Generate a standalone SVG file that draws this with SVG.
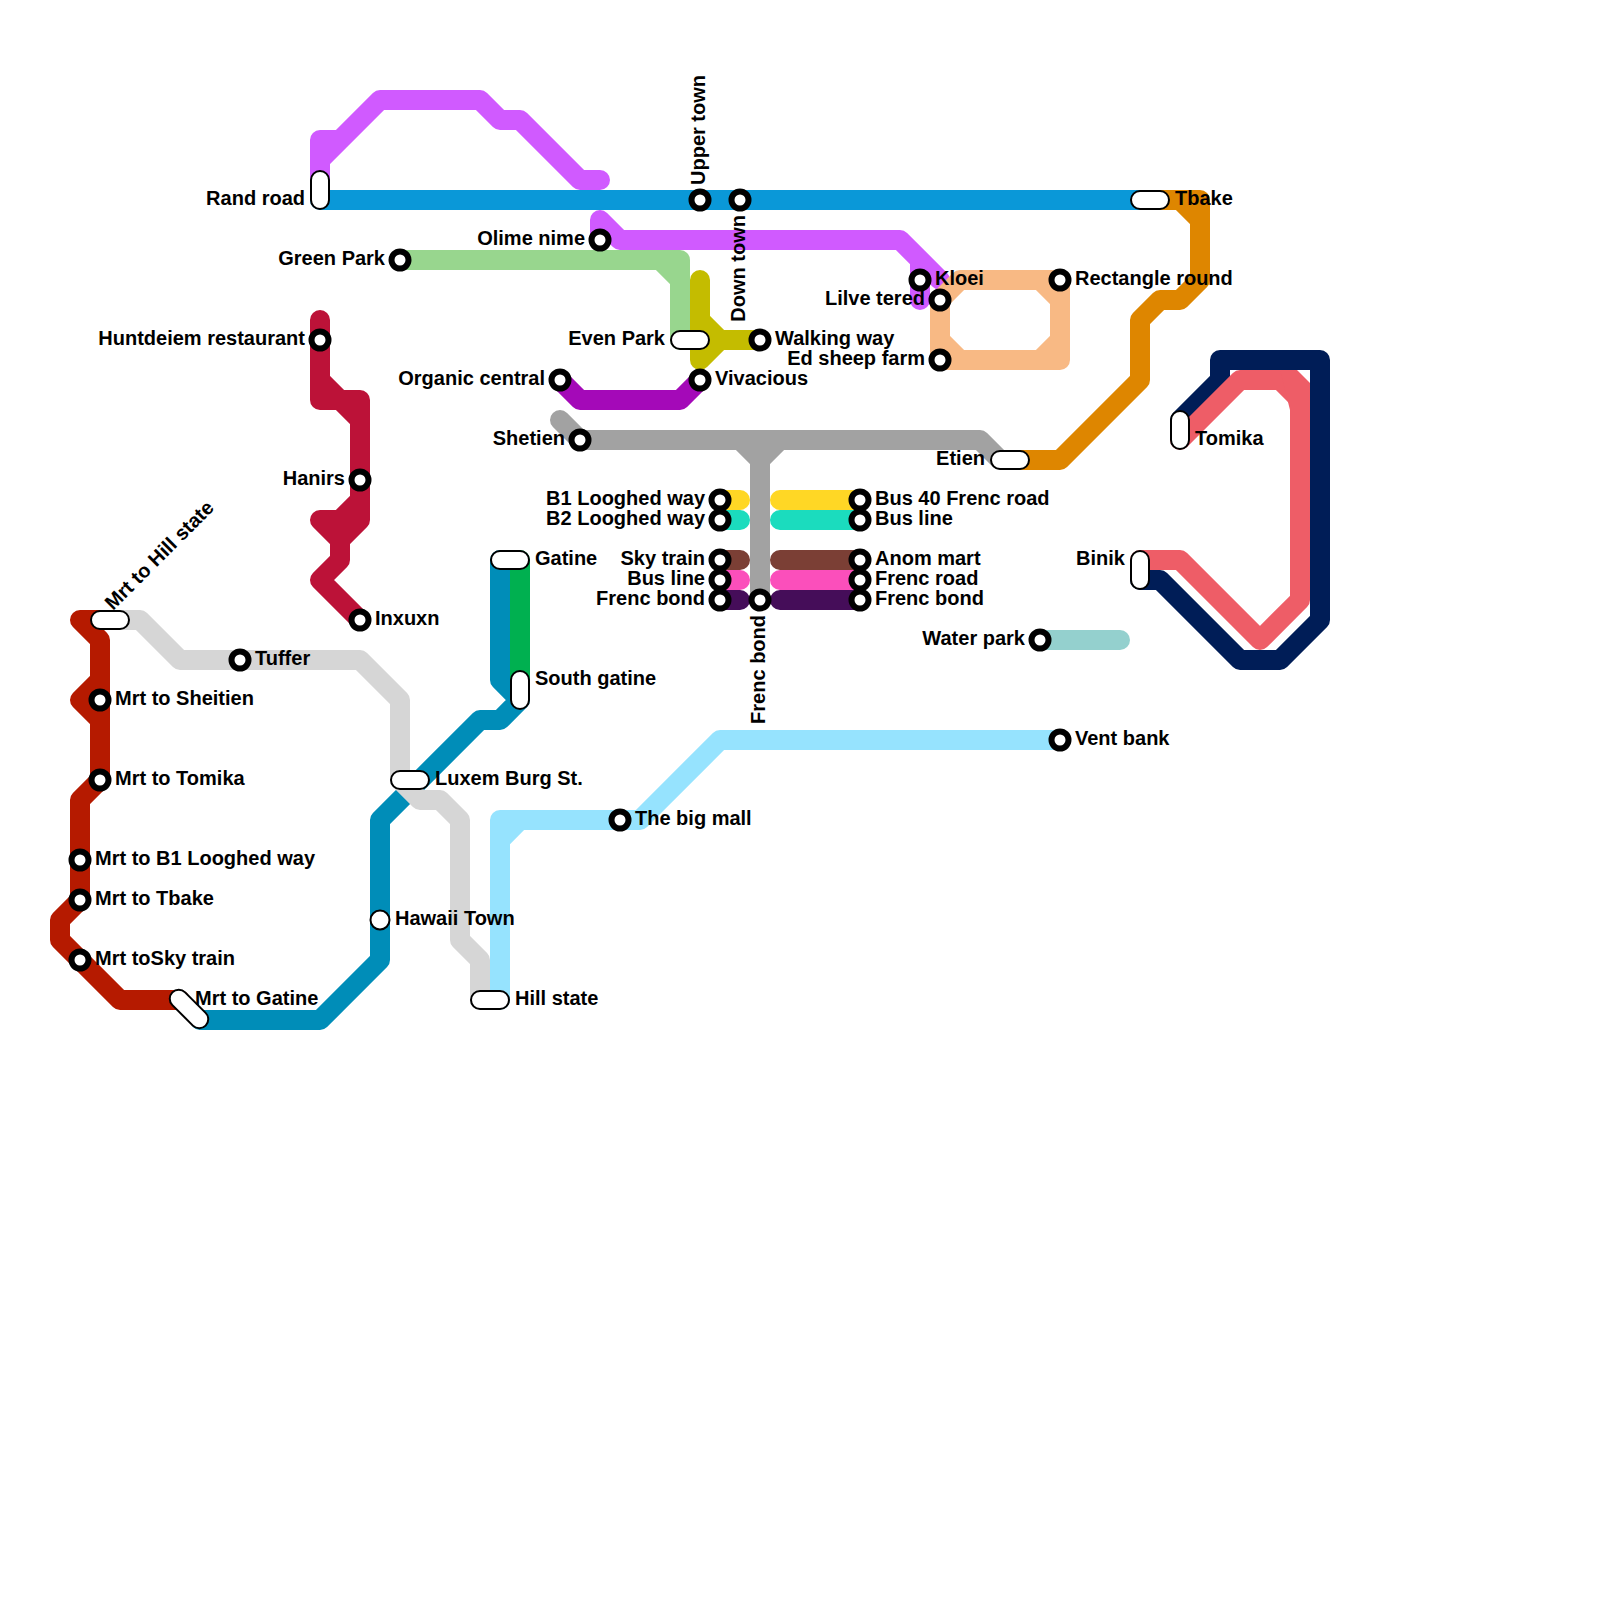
<svg xmlns="http://www.w3.org/2000/svg" width="1600" height="1600" viewBox="0 0 1600 1600">
<style>
.l{fill:none;stroke-width:20;stroke-linecap:round;stroke-linejoin:round}
.s{fill:#fff;stroke:#000;stroke-width:6}
.p{fill:#fff;stroke:#000;stroke-width:2}
text{font-family:"Liberation Sans",Arial,sans-serif;font-weight:700;font-size:20px;fill:#000}
.e{text-anchor:end}
</style>
<rect width="1600" height="1600" fill="#fff"/>
<g id="connectors">
<path class="l" stroke="#b51a00" d="M180 1000H120L60 940V920L80 900V800L100 780V640L80 620H110M100 680L80 700L100 720"/>
<path class="l" stroke="#008db8" d="M200 1020H320L380 960V820L480 720H500L520 700L500 680V560"/>
<path class="l" stroke="#00b050" d="M520 560V690"/>
<path class="l" stroke="#d6d6d6" d="M110 620H140L180 660H360L400 700V780L420 800H440L460 820V940L480 960V1000"/>
<path class="l" stroke="#96e3fe" d="M500 1000V820H640L720 740H1060M500 840L520 820"/>
<path class="l" stroke="#0a98d8" d="M320 200H1150"/>
<path class="l" stroke="#d05aff" d="M320 190V140H340M320 160L380 100H480L500 120H520L580 180H600"/>
<path class="l" stroke="#d05aff" d="M600 240V220L620 240H900L940 280M920 260V300"/>
<path class="l" stroke="#98d68e" d="M400 260H680V340M660 260L680 280"/>
<path class="l" stroke="#c4bc00" d="M700 280V360L720 340H760M700 320L720 340"/>
<path class="l" stroke="#a409b8" d="M560 380L580 400H680L700 380"/>
<path class="l" stroke="#a2a2a2" d="M560 420L580 440H980L1000 460M740 440L760 460V600M780 440L760 460"/>
<path class="l" stroke="#bc1238" d="M320 320V400H340M320 380L340 400H360V520L340 540V560L320 580L360 620M340 400L360 420M320 520H340L360 500M320 520L340 540"/>
<path class="l" stroke="#f8b984" d="M940 300L960 280H1060V360H940ZM1040 280L1060 300M1060 340L1040 360M960 360L940 340"/>
<path class="l" stroke="#de8600" d="M1150 200H1200V280L1180 300H1160L1140 320V380L1060 460H1010M1180 200L1200 220"/>
<path class="l" stroke="#001d57" d="M1180 420L1220 380V360H1320V620L1280 660H1240L1160 580H1140"/>
<path class="l" stroke="#ee5d67" d="M1180 440L1240 380H1280L1300 400V600L1260 640L1180 560H1140"/>
<polygon fill="#ee5d67" points="1280,370 1297,370 1310,383 1310,410 1290,410"/>
<path class="l" stroke="#94d0ce" d="M1040 640H1120"/>
<path class="l" stroke="#ffd725" d="M720 500H740M780 500H860"/>
<path class="l" stroke="#1bdcbe" d="M720 520H740M780 520H860"/>
<path class="l" stroke="#7b3f35" d="M720 560H740M780 560H860"/>
<path class="l" stroke="#fb4fbb" d="M720 580H740M780 580H860"/>
<path class="l" stroke="#450d59" d="M720 600H740M780 600H860"/>
</g>
<g id="n-rand-road"><rect class="p" x="311" y="171" width="18" height="38" rx="9"/><text class="e" x="305" y="205">Rand road</text></g>
<g id="n-upper-town"><circle class="s" cx="700" cy="200" r="8.5"/><text transform="translate(705 185) rotate(-90)">Upper town</text></g>
<g id="n-down-town"><circle class="s" cx="740" cy="200" r="8.5"/><text class="e" transform="translate(745 215) rotate(-90)">Down town</text></g>
<g id="n-olime-nime"><circle class="s" cx="600" cy="240" r="8.5"/><text class="e" x="585" y="245">Olime nime</text></g>
<g id="n-green-park"><circle class="s" cx="400" cy="260" r="8.5"/><text class="e" x="385" y="265">Green Park</text></g>
<g id="n-huntdeiem"><circle class="s" cx="320" cy="340" r="8.5"/><text class="e" x="305" y="345">Huntdeiem restaurant</text></g>
<g id="n-hanirs"><circle class="s" cx="360" cy="480" r="8.5"/><text class="e" x="345" y="485">Hanirs</text></g>
<g id="n-inxuxn"><circle class="s" cx="360" cy="620" r="8.5"/><text x="375" y="625">Inxuxn</text></g>
<g id="n-organic"><circle class="s" cx="560" cy="380" r="8.5"/><text class="e" x="545" y="385">Organic central</text></g>
<g id="n-vivacious"><circle class="s" cx="700" cy="380" r="8.5"/><text x="715" y="385">Vivacious</text></g>
<g id="n-walking"><circle class="s" cx="760" cy="340" r="8.5"/><text x="775" y="345">Walking way</text></g>
<g id="n-even-park"><rect class="p" x="671" y="331" width="38" height="18" rx="9"/><text class="e" x="665" y="345">Even Park</text></g>
<g id="n-shetien"><circle class="s" cx="580" cy="440" r="8.5"/><text class="e" x="565" y="445">Shetien</text></g>
<g id="n-kloei"><circle class="s" cx="920" cy="280" r="8.5"/><text x="935" y="285">Kloei</text></g>
<g id="n-lilve"><circle class="s" cx="940" cy="300" r="8.5"/><text class="e" x="925" y="305">Lilve tered</text></g>
<g id="n-ed-sheep"><circle class="s" cx="940" cy="360" r="8.5"/><text class="e" x="925" y="365">Ed sheep farm</text></g>
<g id="n-rectangle"><circle class="s" cx="1060" cy="280" r="8.5"/><text x="1075" y="285">Rectangle round</text></g>
<g id="n-tbake"><rect class="p" x="1131" y="191" width="38" height="18" rx="9"/><text x="1175" y="205">Tbake</text></g>
<g id="n-etien"><rect class="p" x="991" y="451" width="38" height="18" rx="9"/><text class="e" x="985" y="465">Etien</text></g>
<g id="n-tomika"><rect class="p" x="1171" y="411" width="18" height="38" rx="9"/><text x="1195" y="445">Tomika</text></g>
<g id="n-binik"><rect class="p" x="1131" y="551" width="18" height="38" rx="9"/><text class="e" x="1125" y="565">Binik</text></g>
<g id="n-water-park"><circle class="s" cx="1040" cy="640" r="8.5"/><text class="e" x="1025" y="645">Water park</text></g>
<g id="n-vent-bank"><circle class="s" cx="1060" cy="740" r="8.5"/><text x="1075" y="745">Vent bank</text></g>
<g id="n-big-mall"><circle class="s" cx="620" cy="820" r="8.5"/><text x="635" y="825">The big mall</text></g>
<g id="n-hill-state"><rect class="p" x="471" y="991" width="38" height="18" rx="9"/><text x="515" y="1005">Hill state</text></g>
<g id="n-hawaii"><circle class="p" cx="380" cy="920" r="9.5"/><text x="395" y="925">Hawaii Town</text></g>
<g id="n-luxem"><rect class="p" x="391" y="771" width="38" height="18" rx="9"/><text x="435" y="785">Luxem Burg St.</text></g>
<g id="n-gatine"><rect class="p" x="491" y="551" width="38" height="18" rx="9"/><text x="535" y="565">Gatine</text></g>
<g id="n-south-gatine"><rect class="p" x="511" y="671" width="18" height="38" rx="9"/><text x="535" y="685">South gatine</text></g>
<g id="n-tuffer"><circle class="s" cx="240" cy="660" r="8.5"/><text x="255" y="665">Tuffer</text></g>
<g id="n-mrt-hill"><rect class="p" x="91" y="611" width="38" height="18" rx="9"/><text transform="translate(113 611) rotate(-45)">Mrt to Hill state</text></g>
<g id="n-mrt-sheitien"><circle class="s" cx="100" cy="700" r="8.5"/><text x="115" y="705">Mrt to Sheitien</text></g>
<g id="n-mrt-tomika"><circle class="s" cx="100" cy="780" r="8.5"/><text x="115" y="785">Mrt to Tomika</text></g>
<g id="n-mrt-b1"><circle class="s" cx="80" cy="860" r="8.5"/><text x="95" y="865">Mrt to B1 Looghed way</text></g>
<g id="n-mrt-tbake"><circle class="s" cx="80" cy="900" r="8.5"/><text x="95" y="905">Mrt to Tbake</text></g>
<g id="n-mrt-sky"><circle class="s" cx="80" cy="960" r="8.5"/><text x="95" y="965">Mrt toSky train</text></g>
<g id="n-mrt-gatine"><rect class="p" x="165.500" y="1000" width="47" height="18" rx="9" transform="rotate(45 189 1009)"/><text x="195" y="1005">Mrt to Gatine</text></g>
<g id="n-b1"><circle class="s" cx="720" cy="500" r="8.5"/><text class="e" x="705" y="505">B1 Looghed way</text></g>
<g id="n-b2"><circle class="s" cx="720" cy="520" r="8.5"/><text class="e" x="705" y="525">B2 Looghed way</text></g>
<g id="n-sky"><circle class="s" cx="720" cy="560" r="8.5"/><text class="e" x="705" y="565">Sky train</text></g>
<g id="n-bus-line-l"><circle class="s" cx="720" cy="580" r="8.5"/><text class="e" x="705" y="585">Bus line</text></g>
<g id="n-frenc-l"><circle class="s" cx="720" cy="600" r="8.5"/><text class="e" x="705" y="605">Frenc bond</text></g>
<g id="n-frenc-c"><circle class="s" cx="760" cy="600" r="8.5"/><text class="e" transform="translate(765 615) rotate(-90)">Frenc bond</text></g>
<g id="n-bus40"><circle class="s" cx="860" cy="500" r="8.5"/><text x="875" y="505">Bus 40 Frenc road</text></g>
<g id="n-bus-line-r"><circle class="s" cx="860" cy="520" r="8.5"/><text x="875" y="525">Bus line</text></g>
<g id="n-anom"><circle class="s" cx="860" cy="560" r="8.5"/><text x="875" y="565">Anom mart</text></g>
<g id="n-frenc-road"><circle class="s" cx="860" cy="580" r="8.5"/><text x="875" y="585">Frenc road</text></g>
<g id="n-frenc-r"><circle class="s" cx="860" cy="600" r="8.5"/><text x="875" y="605">Frenc bond</text></g>
</svg>
